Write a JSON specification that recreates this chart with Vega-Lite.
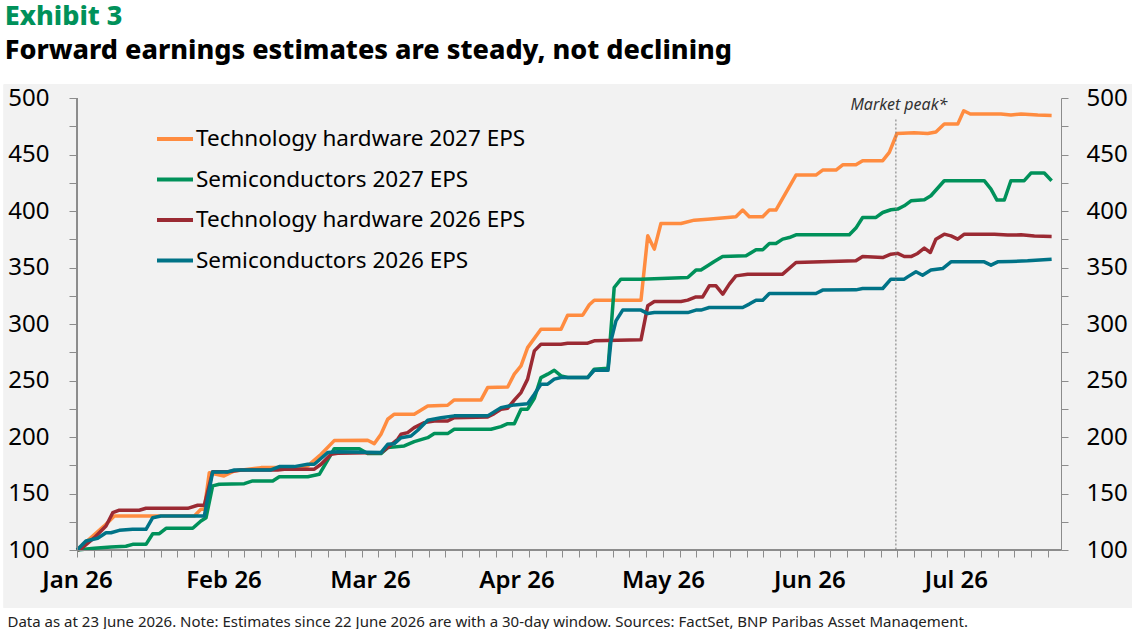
{
  "$schema": "https://vega.github.io/schema/vega-lite/v6.json",
  "width": 984,
  "height": 452,
  "padding": {"left": 3, "top": 3, "right": 0, "bottom": 0},
  "background": "white",
  "title": {
    "text": "Exhibit 3",
    "subtitle": "Forward earnings estimates are steady, not declining",
    "anchor": "start",
    "frame": "bounds",
    "dx": 1,
    "offset": 19,
    "font": "Noto Sans",
    "fontSize": 27,
    "fontWeight": 800,
    "color": "#00915a",
    "subtitleFont": "Noto Sans",
    "subtitleFontSize": 27,
    "subtitleFontWeight": 800,
    "subtitleColor": "#000000",
    "subtitlePadding": 7
  },
  "config": {
    "view": {"stroke": null},
    "font": "Noto Sans",
    "axis": {"grid": false, "domainColor": "#8c8c8c", "tickColor": "#8c8c8c", "labelColor": "#000000", "labelFont": "Noto Sans"}
  },
  "data": {
    "values": [
      {"s": "Technology hardware 2027 EPS", "t": 0, "v": 100},
      {"s": "Technology hardware 2027 EPS", "t": 0.096, "v": 110.9},
      {"s": "Technology hardware 2027 EPS", "t": 0.186, "v": 121.3},
      {"s": "Technology hardware 2027 EPS", "t": 0.255, "v": 130.1},
      {"s": "Technology hardware 2027 EPS", "t": 0.801, "v": 130.1},
      {"s": "Technology hardware 2027 EPS", "t": 0.846, "v": 136.0},
      {"s": "Technology hardware 2027 EPS", "t": 0.869, "v": 136.0},
      {"s": "Technology hardware 2027 EPS", "t": 0.903, "v": 168.4},
      {"s": "Technology hardware 2027 EPS", "t": 1.003, "v": 165.5},
      {"s": "Technology hardware 2027 EPS", "t": 1.074, "v": 170.0},
      {"s": "Technology hardware 2027 EPS", "t": 1.256, "v": 172.9},
      {"s": "Technology hardware 2027 EPS", "t": 1.483, "v": 172.9},
      {"s": "Technology hardware 2027 EPS", "t": 1.575, "v": 174.4},
      {"s": "Technology hardware 2027 EPS", "t": 1.666, "v": 184.7},
      {"s": "Technology hardware 2027 EPS", "t": 1.756, "v": 196.8},
      {"s": "Technology hardware 2027 EPS", "t": 1.984, "v": 197.1},
      {"s": "Technology hardware 2027 EPS", "t": 2.029, "v": 194.1},
      {"s": "Technology hardware 2027 EPS", "t": 2.075, "v": 202.5},
      {"s": "Technology hardware 2027 EPS", "t": 2.121, "v": 215.7},
      {"s": "Technology hardware 2027 EPS", "t": 2.166, "v": 220.2},
      {"s": "Technology hardware 2027 EPS", "t": 2.302, "v": 220.2},
      {"s": "Technology hardware 2027 EPS", "t": 2.394, "v": 227.5},
      {"s": "Technology hardware 2027 EPS", "t": 2.530, "v": 228.1},
      {"s": "Technology hardware 2027 EPS", "t": 2.575, "v": 232.8},
      {"s": "Technology hardware 2027 EPS", "t": 2.758, "v": 232.8},
      {"s": "Technology hardware 2027 EPS", "t": 2.803, "v": 243.7},
      {"s": "Technology hardware 2027 EPS", "t": 2.940, "v": 244.3},
      {"s": "Technology hardware 2027 EPS", "t": 2.985, "v": 255.6},
      {"s": "Technology hardware 2027 EPS", "t": 3.031, "v": 262.9},
      {"s": "Technology hardware 2027 EPS", "t": 3.076, "v": 279.1},
      {"s": "Technology hardware 2027 EPS", "t": 3.167, "v": 295.4},
      {"s": "Technology hardware 2027 EPS", "t": 3.304, "v": 295.4},
      {"s": "Technology hardware 2027 EPS", "t": 3.349, "v": 307.8},
      {"s": "Technology hardware 2027 EPS", "t": 3.452, "v": 307.8},
      {"s": "Technology hardware 2027 EPS", "t": 3.497, "v": 317.0},
      {"s": "Technology hardware 2027 EPS", "t": 3.531, "v": 321.1},
      {"s": "Technology hardware 2027 EPS", "t": 3.850, "v": 321.1},
      {"s": "Technology hardware 2027 EPS", "t": 3.896, "v": 378.0},
      {"s": "Technology hardware 2027 EPS", "t": 3.941, "v": 366.3},
      {"s": "Technology hardware 2027 EPS", "t": 3.986, "v": 388.9},
      {"s": "Technology hardware 2027 EPS", "t": 4.123, "v": 388.9},
      {"s": "Technology hardware 2027 EPS", "t": 4.214, "v": 391.9},
      {"s": "Technology hardware 2027 EPS", "t": 4.305, "v": 392.8},
      {"s": "Technology hardware 2027 EPS", "t": 4.442, "v": 394.3},
      {"s": "Technology hardware 2027 EPS", "t": 4.498, "v": 394.9},
      {"s": "Technology hardware 2027 EPS", "t": 4.544, "v": 400.8},
      {"s": "Technology hardware 2027 EPS", "t": 4.589, "v": 394.9},
      {"s": "Technology hardware 2027 EPS", "t": 4.681, "v": 394.9},
      {"s": "Technology hardware 2027 EPS", "t": 4.726, "v": 400.8},
      {"s": "Technology hardware 2027 EPS", "t": 4.771, "v": 400.8},
      {"s": "Technology hardware 2027 EPS", "t": 4.908, "v": 431.8},
      {"s": "Technology hardware 2027 EPS", "t": 5.044, "v": 431.8},
      {"s": "Technology hardware 2027 EPS", "t": 5.090, "v": 436.2},
      {"s": "Technology hardware 2027 EPS", "t": 5.181, "v": 436.2},
      {"s": "Technology hardware 2027 EPS", "t": 5.227, "v": 440.9},
      {"s": "Technology hardware 2027 EPS", "t": 5.317, "v": 440.9},
      {"s": "Technology hardware 2027 EPS", "t": 5.363, "v": 444.5},
      {"s": "Technology hardware 2027 EPS", "t": 5.500, "v": 444.5},
      {"s": "Technology hardware 2027 EPS", "t": 5.545, "v": 451.8},
      {"s": "Technology hardware 2027 EPS", "t": 5.597, "v": 468.6},
      {"s": "Technology hardware 2027 EPS", "t": 5.715, "v": 469.2},
      {"s": "Technology hardware 2027 EPS", "t": 5.807, "v": 468.6},
      {"s": "Technology hardware 2027 EPS", "t": 5.863, "v": 469.9},
      {"s": "Technology hardware 2027 EPS", "t": 5.920, "v": 476.9},
      {"s": "Technology hardware 2027 EPS", "t": 6.012, "v": 476.9},
      {"s": "Technology hardware 2027 EPS", "t": 6.053, "v": 488.7},
      {"s": "Technology hardware 2027 EPS", "t": 6.098, "v": 485.8},
      {"s": "Technology hardware 2027 EPS", "t": 6.307, "v": 485.8},
      {"s": "Technology hardware 2027 EPS", "t": 6.375, "v": 484.9},
      {"s": "Technology hardware 2027 EPS", "t": 6.444, "v": 485.8},
      {"s": "Technology hardware 2027 EPS", "t": 6.558, "v": 484.9},
      {"s": "Technology hardware 2027 EPS", "t": 6.653, "v": 484.6},

      {"s": "Semiconductors 2027 EPS", "t": 0, "v": 100},
      {"s": "Semiconductors 2027 EPS", "t": 0.118, "v": 101.5},
      {"s": "Semiconductors 2027 EPS", "t": 0.232, "v": 102.7},
      {"s": "Semiconductors 2027 EPS", "t": 0.334, "v": 103.3},
      {"s": "Semiconductors 2027 EPS", "t": 0.380, "v": 105.0},
      {"s": "Semiconductors 2027 EPS", "t": 0.471, "v": 105.0},
      {"s": "Semiconductors 2027 EPS", "t": 0.517, "v": 114.4},
      {"s": "Semiconductors 2027 EPS", "t": 0.562, "v": 114.4},
      {"s": "Semiconductors 2027 EPS", "t": 0.608, "v": 119.2},
      {"s": "Semiconductors 2027 EPS", "t": 0.790, "v": 119.2},
      {"s": "Semiconductors 2027 EPS", "t": 0.846, "v": 125.7},
      {"s": "Semiconductors 2027 EPS", "t": 0.881, "v": 128.6},
      {"s": "Semiconductors 2027 EPS", "t": 0.926, "v": 156.7},
      {"s": "Semiconductors 2027 EPS", "t": 0.971, "v": 158.2},
      {"s": "Semiconductors 2027 EPS", "t": 1.142, "v": 158.7},
      {"s": "Semiconductors 2027 EPS", "t": 1.199, "v": 161.1},
      {"s": "Semiconductors 2027 EPS", "t": 1.336, "v": 161.1},
      {"s": "Semiconductors 2027 EPS", "t": 1.381, "v": 164.9},
      {"s": "Semiconductors 2027 EPS", "t": 1.575, "v": 164.9},
      {"s": "Semiconductors 2027 EPS", "t": 1.654, "v": 167.0},
      {"s": "Semiconductors 2027 EPS", "t": 1.734, "v": 184.7},
      {"s": "Semiconductors 2027 EPS", "t": 1.756, "v": 189.7},
      {"s": "Semiconductors 2027 EPS", "t": 1.927, "v": 189.7},
      {"s": "Semiconductors 2027 EPS", "t": 1.984, "v": 185.3},
      {"s": "Semiconductors 2027 EPS", "t": 2.075, "v": 185.3},
      {"s": "Semiconductors 2027 EPS", "t": 2.121, "v": 190.6},
      {"s": "Semiconductors 2027 EPS", "t": 2.234, "v": 192.1},
      {"s": "Semiconductors 2027 EPS", "t": 2.302, "v": 195.9},
      {"s": "Semiconductors 2027 EPS", "t": 2.394, "v": 199.4},
      {"s": "Semiconductors 2027 EPS", "t": 2.439, "v": 203.0},
      {"s": "Semiconductors 2027 EPS", "t": 2.530, "v": 203.0},
      {"s": "Semiconductors 2027 EPS", "t": 2.575, "v": 206.9},
      {"s": "Semiconductors 2027 EPS", "t": 2.826, "v": 206.9},
      {"s": "Semiconductors 2027 EPS", "t": 2.894, "v": 209.2},
      {"s": "Semiconductors 2027 EPS", "t": 2.940, "v": 211.8},
      {"s": "Semiconductors 2027 EPS", "t": 2.985, "v": 211.8},
      {"s": "Semiconductors 2027 EPS", "t": 3.031, "v": 224.6},
      {"s": "Semiconductors 2027 EPS", "t": 3.076, "v": 224.6},
      {"s": "Semiconductors 2027 EPS", "t": 3.122, "v": 234.3},
      {"s": "Semiconductors 2027 EPS", "t": 3.167, "v": 252.6},
      {"s": "Semiconductors 2027 EPS", "t": 3.213, "v": 255.6},
      {"s": "Semiconductors 2027 EPS", "t": 3.258, "v": 259.1},
      {"s": "Semiconductors 2027 EPS", "t": 3.304, "v": 254.1},
      {"s": "Semiconductors 2027 EPS", "t": 3.349, "v": 252.6},
      {"s": "Semiconductors 2027 EPS", "t": 3.486, "v": 252.6},
      {"s": "Semiconductors 2027 EPS", "t": 3.531, "v": 260.0},
      {"s": "Semiconductors 2027 EPS", "t": 3.625, "v": 260.9},
      {"s": "Semiconductors 2027 EPS", "t": 3.667, "v": 332.3},
      {"s": "Semiconductors 2027 EPS", "t": 3.713, "v": 339.7},
      {"s": "Semiconductors 2027 EPS", "t": 3.850, "v": 339.7},
      {"s": "Semiconductors 2027 EPS", "t": 4.169, "v": 341.1},
      {"s": "Semiconductors 2027 EPS", "t": 4.225, "v": 347.7},
      {"s": "Semiconductors 2027 EPS", "t": 4.259, "v": 347.7},
      {"s": "Semiconductors 2027 EPS", "t": 4.305, "v": 351.5},
      {"s": "Semiconductors 2027 EPS", "t": 4.350, "v": 355.3},
      {"s": "Semiconductors 2027 EPS", "t": 4.407, "v": 359.7},
      {"s": "Semiconductors 2027 EPS", "t": 4.567, "v": 360.3},
      {"s": "Semiconductors 2027 EPS", "t": 4.635, "v": 365.7},
      {"s": "Semiconductors 2027 EPS", "t": 4.681, "v": 365.7},
      {"s": "Semiconductors 2027 EPS", "t": 4.726, "v": 371.2},
      {"s": "Semiconductors 2027 EPS", "t": 4.771, "v": 371.2},
      {"s": "Semiconductors 2027 EPS", "t": 4.817, "v": 375.1},
      {"s": "Semiconductors 2027 EPS", "t": 4.862, "v": 376.5},
      {"s": "Semiconductors 2027 EPS", "t": 4.908, "v": 378.9},
      {"s": "Semiconductors 2027 EPS", "t": 5.272, "v": 378.9},
      {"s": "Semiconductors 2027 EPS", "t": 5.317, "v": 384.9},
      {"s": "Semiconductors 2027 EPS", "t": 5.363, "v": 394.3},
      {"s": "Semiconductors 2027 EPS", "t": 5.454, "v": 394.3},
      {"s": "Semiconductors 2027 EPS", "t": 5.500, "v": 398.7},
      {"s": "Semiconductors 2027 EPS", "t": 5.556, "v": 401.1},
      {"s": "Semiconductors 2027 EPS", "t": 5.602, "v": 401.7},
      {"s": "Semiconductors 2027 EPS", "t": 5.647, "v": 404.6},
      {"s": "Semiconductors 2027 EPS", "t": 5.693, "v": 409.0},
      {"s": "Semiconductors 2027 EPS", "t": 5.784, "v": 409.9},
      {"s": "Semiconductors 2027 EPS", "t": 5.829, "v": 413.5},
      {"s": "Semiconductors 2027 EPS", "t": 5.920, "v": 426.8},
      {"s": "Semiconductors 2027 EPS", "t": 6.193, "v": 426.8},
      {"s": "Semiconductors 2027 EPS", "t": 6.239, "v": 419.4},
      {"s": "Semiconductors 2027 EPS", "t": 6.280, "v": 409.7},
      {"s": "Semiconductors 2027 EPS", "t": 6.330, "v": 409.7},
      {"s": "Semiconductors 2027 EPS", "t": 6.375, "v": 426.8},
      {"s": "Semiconductors 2027 EPS", "t": 6.466, "v": 426.8},
      {"s": "Semiconductors 2027 EPS", "t": 6.512, "v": 433.6},
      {"s": "Semiconductors 2027 EPS", "t": 6.603, "v": 433.6},
      {"s": "Semiconductors 2027 EPS", "t": 6.653, "v": 426.8},

      {"s": "Technology hardware 2026 EPS", "t": 0, "v": 100},
      {"s": "Technology hardware 2026 EPS", "t": 0.027, "v": 100.9},
      {"s": "Technology hardware 2026 EPS", "t": 0.118, "v": 110.9},
      {"s": "Technology hardware 2026 EPS", "t": 0.198, "v": 121.3},
      {"s": "Technology hardware 2026 EPS", "t": 0.244, "v": 133.0},
      {"s": "Technology hardware 2026 EPS", "t": 0.289, "v": 135.2},
      {"s": "Technology hardware 2026 EPS", "t": 0.425, "v": 135.2},
      {"s": "Technology hardware 2026 EPS", "t": 0.471, "v": 136.9},
      {"s": "Technology hardware 2026 EPS", "t": 0.756, "v": 136.9},
      {"s": "Technology hardware 2026 EPS", "t": 0.824, "v": 139.6},
      {"s": "Technology hardware 2026 EPS", "t": 0.869, "v": 139.6},
      {"s": "Technology hardware 2026 EPS", "t": 0.926, "v": 169.3},
      {"s": "Technology hardware 2026 EPS", "t": 1.029, "v": 169.3},
      {"s": "Technology hardware 2026 EPS", "t": 1.119, "v": 170.8},
      {"s": "Technology hardware 2026 EPS", "t": 1.370, "v": 170.8},
      {"s": "Technology hardware 2026 EPS", "t": 1.415, "v": 171.5},
      {"s": "Technology hardware 2026 EPS", "t": 1.620, "v": 171.5},
      {"s": "Technology hardware 2026 EPS", "t": 1.666, "v": 175.9},
      {"s": "Technology hardware 2026 EPS", "t": 1.734, "v": 184.7},
      {"s": "Technology hardware 2026 EPS", "t": 1.780, "v": 185.6},
      {"s": "Technology hardware 2026 EPS", "t": 2.075, "v": 186.2},
      {"s": "Technology hardware 2026 EPS", "t": 2.121, "v": 190.6},
      {"s": "Technology hardware 2026 EPS", "t": 2.189, "v": 198.0},
      {"s": "Technology hardware 2026 EPS", "t": 2.212, "v": 202.5},
      {"s": "Technology hardware 2026 EPS", "t": 2.257, "v": 203.9},
      {"s": "Technology hardware 2026 EPS", "t": 2.302, "v": 208.3},
      {"s": "Technology hardware 2026 EPS", "t": 2.371, "v": 212.7},
      {"s": "Technology hardware 2026 EPS", "t": 2.439, "v": 214.2},
      {"s": "Technology hardware 2026 EPS", "t": 2.530, "v": 214.2},
      {"s": "Technology hardware 2026 EPS", "t": 2.575, "v": 217.1},
      {"s": "Technology hardware 2026 EPS", "t": 2.803, "v": 217.8},
      {"s": "Technology hardware 2026 EPS", "t": 2.848, "v": 220.7},
      {"s": "Technology hardware 2026 EPS", "t": 2.894, "v": 224.6},
      {"s": "Technology hardware 2026 EPS", "t": 2.940, "v": 225.5},
      {"s": "Technology hardware 2026 EPS", "t": 2.985, "v": 232.6},
      {"s": "Technology hardware 2026 EPS", "t": 3.031, "v": 239.3},
      {"s": "Technology hardware 2026 EPS", "t": 3.076, "v": 251.2},
      {"s": "Technology hardware 2026 EPS", "t": 3.122, "v": 276.2},
      {"s": "Technology hardware 2026 EPS", "t": 3.167, "v": 282.1},
      {"s": "Technology hardware 2026 EPS", "t": 3.304, "v": 282.1},
      {"s": "Technology hardware 2026 EPS", "t": 3.349, "v": 283.0},
      {"s": "Technology hardware 2026 EPS", "t": 3.486, "v": 283.0},
      {"s": "Technology hardware 2026 EPS", "t": 3.531, "v": 285.1},
      {"s": "Technology hardware 2026 EPS", "t": 3.850, "v": 286.0},
      {"s": "Technology hardware 2026 EPS", "t": 3.896, "v": 316.1},
      {"s": "Technology hardware 2026 EPS", "t": 3.941, "v": 319.9},
      {"s": "Technology hardware 2026 EPS", "t": 4.123, "v": 319.9},
      {"s": "Technology hardware 2026 EPS", "t": 4.169, "v": 321.1},
      {"s": "Technology hardware 2026 EPS", "t": 4.225, "v": 324.0},
      {"s": "Technology hardware 2026 EPS", "t": 4.271, "v": 324.0},
      {"s": "Technology hardware 2026 EPS", "t": 4.316, "v": 333.8},
      {"s": "Technology hardware 2026 EPS", "t": 4.362, "v": 333.8},
      {"s": "Technology hardware 2026 EPS", "t": 4.408, "v": 326.4},
      {"s": "Technology hardware 2026 EPS", "t": 4.453, "v": 335.3},
      {"s": "Technology hardware 2026 EPS", "t": 4.498, "v": 342.6},
      {"s": "Technology hardware 2026 EPS", "t": 4.578, "v": 344.1},
      {"s": "Technology hardware 2026 EPS", "t": 4.817, "v": 344.1},
      {"s": "Technology hardware 2026 EPS", "t": 4.908, "v": 354.4},
      {"s": "Technology hardware 2026 EPS", "t": 5.317, "v": 355.9},
      {"s": "Technology hardware 2026 EPS", "t": 5.363, "v": 359.7},
      {"s": "Technology hardware 2026 EPS", "t": 5.500, "v": 358.8},
      {"s": "Technology hardware 2026 EPS", "t": 5.556, "v": 361.8},
      {"s": "Technology hardware 2026 EPS", "t": 5.602, "v": 362.5},
      {"s": "Technology hardware 2026 EPS", "t": 5.647, "v": 359.7},
      {"s": "Technology hardware 2026 EPS", "t": 5.693, "v": 359.7},
      {"s": "Technology hardware 2026 EPS", "t": 5.738, "v": 362.4},
      {"s": "Technology hardware 2026 EPS", "t": 5.784, "v": 367.2},
      {"s": "Technology hardware 2026 EPS", "t": 5.825, "v": 363.3},
      {"s": "Technology hardware 2026 EPS", "t": 5.863, "v": 375.1},
      {"s": "Technology hardware 2026 EPS", "t": 5.920, "v": 379.5},
      {"s": "Technology hardware 2026 EPS", "t": 5.966, "v": 378.0},
      {"s": "Technology hardware 2026 EPS", "t": 6.012, "v": 375.1},
      {"s": "Technology hardware 2026 EPS", "t": 6.057, "v": 379.5},
      {"s": "Technology hardware 2026 EPS", "t": 6.262, "v": 379.5},
      {"s": "Technology hardware 2026 EPS", "t": 6.353, "v": 378.7},
      {"s": "Technology hardware 2026 EPS", "t": 6.444, "v": 378.9},
      {"s": "Technology hardware 2026 EPS", "t": 6.535, "v": 377.8},
      {"s": "Technology hardware 2026 EPS", "t": 6.653, "v": 377.4},

      {"s": "Semiconductors 2026 EPS", "t": 0, "v": 100},
      {"s": "Semiconductors 2026 EPS", "t": 0.061, "v": 108.0},
      {"s": "Semiconductors 2026 EPS", "t": 0.141, "v": 110.4},
      {"s": "Semiconductors 2026 EPS", "t": 0.198, "v": 115.3},
      {"s": "Semiconductors 2026 EPS", "t": 0.232, "v": 115.3},
      {"s": "Semiconductors 2026 EPS", "t": 0.289, "v": 117.4},
      {"s": "Semiconductors 2026 EPS", "t": 0.380, "v": 118.3},
      {"s": "Semiconductors 2026 EPS", "t": 0.471, "v": 118.3},
      {"s": "Semiconductors 2026 EPS", "t": 0.517, "v": 128.6},
      {"s": "Semiconductors 2026 EPS", "t": 0.573, "v": 130.1},
      {"s": "Semiconductors 2026 EPS", "t": 0.869, "v": 130.1},
      {"s": "Semiconductors 2026 EPS", "t": 0.926, "v": 169.1},
      {"s": "Semiconductors 2026 EPS", "t": 1.029, "v": 169.1},
      {"s": "Semiconductors 2026 EPS", "t": 1.074, "v": 170.8},
      {"s": "Semiconductors 2026 EPS", "t": 1.324, "v": 170.8},
      {"s": "Semiconductors 2026 EPS", "t": 1.381, "v": 173.8},
      {"s": "Semiconductors 2026 EPS", "t": 1.483, "v": 173.8},
      {"s": "Semiconductors 2026 EPS", "t": 1.575, "v": 175.9},
      {"s": "Semiconductors 2026 EPS", "t": 1.620, "v": 175.9},
      {"s": "Semiconductors 2026 EPS", "t": 1.711, "v": 186.2},
      {"s": "Semiconductors 2026 EPS", "t": 1.780, "v": 187.0},
      {"s": "Semiconductors 2026 EPS", "t": 2.075, "v": 186.2},
      {"s": "Semiconductors 2026 EPS", "t": 2.121, "v": 193.6},
      {"s": "Semiconductors 2026 EPS", "t": 2.166, "v": 194.1},
      {"s": "Semiconductors 2026 EPS", "t": 2.212, "v": 199.4},
      {"s": "Semiconductors 2026 EPS", "t": 2.280, "v": 200.9},
      {"s": "Semiconductors 2026 EPS", "t": 2.326, "v": 206.0},
      {"s": "Semiconductors 2026 EPS", "t": 2.394, "v": 214.8},
      {"s": "Semiconductors 2026 EPS", "t": 2.485, "v": 217.1},
      {"s": "Semiconductors 2026 EPS", "t": 2.575, "v": 218.7},
      {"s": "Semiconductors 2026 EPS", "t": 2.803, "v": 218.7},
      {"s": "Semiconductors 2026 EPS", "t": 2.894, "v": 226.0},
      {"s": "Semiconductors 2026 EPS", "t": 2.985, "v": 228.4},
      {"s": "Semiconductors 2026 EPS", "t": 3.076, "v": 229.5},
      {"s": "Semiconductors 2026 EPS", "t": 3.122, "v": 237.9},
      {"s": "Semiconductors 2026 EPS", "t": 3.167, "v": 246.7},
      {"s": "Semiconductors 2026 EPS", "t": 3.213, "v": 246.7},
      {"s": "Semiconductors 2026 EPS", "t": 3.258, "v": 251.2},
      {"s": "Semiconductors 2026 EPS", "t": 3.304, "v": 252.6},
      {"s": "Semiconductors 2026 EPS", "t": 3.486, "v": 252.6},
      {"s": "Semiconductors 2026 EPS", "t": 3.531, "v": 259.1},
      {"s": "Semiconductors 2026 EPS", "t": 3.625, "v": 259.1},
      {"s": "Semiconductors 2026 EPS", "t": 3.645, "v": 285.1},
      {"s": "Semiconductors 2026 EPS", "t": 3.679, "v": 302.8},
      {"s": "Semiconductors 2026 EPS", "t": 3.725, "v": 312.3},
      {"s": "Semiconductors 2026 EPS", "t": 3.850, "v": 312.3},
      {"s": "Semiconductors 2026 EPS", "t": 3.896, "v": 309.2},
      {"s": "Semiconductors 2026 EPS", "t": 3.941, "v": 310.1},
      {"s": "Semiconductors 2026 EPS", "t": 4.169, "v": 310.1},
      {"s": "Semiconductors 2026 EPS", "t": 4.225, "v": 312.3},
      {"s": "Semiconductors 2026 EPS", "t": 4.259, "v": 312.3},
      {"s": "Semiconductors 2026 EPS", "t": 4.316, "v": 314.6},
      {"s": "Semiconductors 2026 EPS", "t": 4.544, "v": 314.6},
      {"s": "Semiconductors 2026 EPS", "t": 4.589, "v": 317.6},
      {"s": "Semiconductors 2026 EPS", "t": 4.635, "v": 321.1},
      {"s": "Semiconductors 2026 EPS", "t": 4.681, "v": 321.1},
      {"s": "Semiconductors 2026 EPS", "t": 4.726, "v": 327.0},
      {"s": "Semiconductors 2026 EPS", "t": 5.044, "v": 327.0},
      {"s": "Semiconductors 2026 EPS", "t": 5.090, "v": 330.0},
      {"s": "Semiconductors 2026 EPS", "t": 5.317, "v": 330.2},
      {"s": "Semiconductors 2026 EPS", "t": 5.363, "v": 331.4},
      {"s": "Semiconductors 2026 EPS", "t": 5.500, "v": 331.4},
      {"s": "Semiconductors 2026 EPS", "t": 5.556, "v": 339.7},
      {"s": "Semiconductors 2026 EPS", "t": 5.647, "v": 339.7},
      {"s": "Semiconductors 2026 EPS", "t": 5.670, "v": 341.7},
      {"s": "Semiconductors 2026 EPS", "t": 5.727, "v": 346.2},
      {"s": "Semiconductors 2026 EPS", "t": 5.772, "v": 343.2},
      {"s": "Semiconductors 2026 EPS", "t": 5.829, "v": 347.7},
      {"s": "Semiconductors 2026 EPS", "t": 5.909, "v": 349.1},
      {"s": "Semiconductors 2026 EPS", "t": 5.966, "v": 355.0},
      {"s": "Semiconductors 2026 EPS", "t": 6.193, "v": 355.0},
      {"s": "Semiconductors 2026 EPS", "t": 6.239, "v": 352.1},
      {"s": "Semiconductors 2026 EPS", "t": 6.285, "v": 355.0},
      {"s": "Semiconductors 2026 EPS", "t": 6.375, "v": 355.3},
      {"s": "Semiconductors 2026 EPS", "t": 6.489, "v": 355.9},
      {"s": "Semiconductors 2026 EPS", "t": 6.653, "v": 357.4}
    ]
  },
  "layer": [
    {
      "mark": {"type": "rect", "fill": "#f2f2f2"},
      "encoding": {
        "x": {"datum": -0.5, "type": "quantitative", "scale": {"domain": [0, 6.717], "nice": false, "zero": false}, "axis": null},
        "x2": {"datum": 7.25},
        "y": {"datum": 512, "type": "quantitative", "scale": {"domain": [100, 500], "nice": false, "zero": false}, "axis": null},
        "y2": {"datum": 49}
      }
    },
    {
      "mark": {"type": "rule", "stroke": "#8c8c8c", "strokeWidth": 1},
      "encoding": {
        "x": {"datum": 0, "type": "quantitative", "scale": {"domain": [0, 6.717], "nice": false, "zero": false}, "axis": null},
        "y": {"datum": 100, "type": "quantitative", "scale": {"domain": [100, 500], "nice": false, "zero": false}, "axis": null},
        "y2": {"datum": 500}
      }
    },
    {
      "mark": {"type": "rule", "stroke": "#8c8c8c", "strokeWidth": 1},
      "encoding": {
        "x": {"datum": 0, "type": "quantitative", "scale": {"domain": [0, 6.717], "nice": false, "zero": false}, "axis": null},
        "x2": {"datum": 6.717},
        "y": {"datum": 100, "type": "quantitative", "scale": {"domain": [100, 500], "nice": false, "zero": false}, "axis": null}
      }
    },
    {
      "mark": {"type": "line", "strokeWidth": 3.5, "strokeJoin": "round"},
      "encoding": {
        "x": {
          "field": "t", "type": "quantitative",
          "scale": {"domain": [0, 6.717], "nice": false, "zero": false},
          "axis": null
        },
        "y": {
          "field": "v", "type": "quantitative",
          "scale": {"domain": [100, 500], "nice": false, "zero": false},
          "axis": {
            "zindex": 1,
            "orient": "right",
            "values": [100, 125, 150, 175, 200, 225, 250, 275, 300, 325, 350, 375, 400, 425, 450, 475, 500],
            "labelExpr": "datum.value % 50 === 0 ? datum.label : ''",
            "tickSize": 7,
            "labelFontSize": 24,
            "labelPadding": 18,
            "title": null
          }
        },
        "color": {
          "field": "s", "type": "nominal",
          "scale": {
            "domain": ["Technology hardware 2027 EPS", "Semiconductors 2027 EPS", "Technology hardware 2026 EPS", "Semiconductors 2026 EPS"],
            "range": ["#ff8c40", "#00915a", "#9b2a33", "#007387"]
          },
          "legend": {
            "orient": "none",
            "legendX": 78,
            "legendY": 21,
            "title": null,
            "zindex": 2,
            "padding": 0,
            "symbolType": "stroke",
            "symbolSize": 1296,
            "symbolStrokeWidth": 4,
            "labelFont": "Noto Sans",
            "labelFontSize": 22.5,
            "labelColor": "#000000",
            "labelOffset": 1,
            "labelLimit": 500,
            "rowPadding": 8.5
          }
        }
      }
    },
    {
      "mark": {"type": "line", "strokeOpacity": 0},
      "encoding": {
        "x": {
          "field": "t", "type": "quantitative",
          "scale": {"domain": [0, 6.717], "nice": false, "zero": false},
          "axis": {
            "zindex": 1,
            "orient": "bottom",
            "domain": true,
            "ticks": true,
            "tickColor": "#8c8c8c",
            "tickWidth": 1,
            "values": [0, 0.114, 0.229, 0.343, 0.457, 0.571, 0.686, 0.8, 0.914, 1, 1.028, 1.143, 1.257, 1.371, 1.486, 1.6, 1.714, 1.828, 1.943, 2, 2.057, 2.171, 2.285, 2.4, 2.514, 2.628, 2.742, 2.857, 2.971, 3, 3.085, 3.2, 3.314, 3.428, 3.542, 3.657, 3.771, 3.885, 3.999, 4, 4.114, 4.228, 4.342, 4.457, 4.571, 4.685, 4.8, 4.914, 5, 5.028, 5.142, 5.257, 5.371, 5.485, 5.599, 5.714, 5.828, 5.942, 6, 6.056, 6.171, 6.285, 6.399, 6.514, 6.628],
            "labelExpr": "datum.value % 1 === 0 ? ['Jan 26', 'Feb 26', 'Mar 26', 'Apr 26', 'May 26', 'Jun 26', 'Jul 26'][datum.value] : ''",
            "labelFlush": false,
            "labelOverlap": false,
            "tickSize": 7,
            "tickOpacity": {"condition": {"test": "datum.value % 1 === 0 && datum.value > 0", "value": 0}, "value": 1},
            "labelFontSize": 24,
            "labelFontWeight": 600,
            "labelPadding": 11,
            "title": "Data as at 23 June 2026. Note: Estimates since 22 June 2026 are with a 30-day window. Sources: FactSet, BNP Paribas Asset Management.",
            "titleFont": "Noto Sans",
            "titleFontSize": 15,
            "titleFontWeight": "normal",
            "titleColor": "#222222",
            "titleAlign": "left",
            "titleBaseline": "middle",
            "titleX": -70,
            "titleY": 71
          }
        },
        "y": {
          "field": "v", "type": "quantitative",
          "scale": {"domain": [100, 500], "nice": false, "zero": false},
          "axis": {
            "zindex": 1,
            "orient": "left",
            "domain": true,
            "ticks": true,
            "tickColor": "#8c8c8c",
            "tickWidth": 1,
            "values": [100, 125, 150, 175, 200, 225, 250, 275, 300, 325, 350, 375, 400, 425, 450, 475, 500],
            "labelExpr": "datum.value % 50 === 0 ? datum.label : ''",
            "tickSize": 8,
            "labelFontSize": 24,
            "labelPadding": 20,
            "title": null
          }
        },
        "detail": {"field": "s", "type": "nominal"}
      }
    },
    {
      "data": {"values": [{"t": 5.59, "event": "Market peak*"}]},
      "layer": [
        {
          "mark": {"type": "rule", "stroke": "#777777", "strokeWidth": 1, "strokeDash": [2, 2]},
          "encoding": {
            "x": {"field": "t", "type": "quantitative", "scale": {"domain": [0, 6.717], "nice": false, "zero": false}, "axis": null},
            "y": {"datum": 481, "type": "quantitative", "scale": {"domain": [100, 500], "nice": false, "zero": false}, "axis": null},
            "y2": {"datum": 100}
          }
        },
        {
          "mark": {"type": "text", "font": "Noto Sans", "fontSize": 16, "fontStyle": "italic", "color": "#333333", "align": "center", "baseline": "middle", "dx": 3},
          "encoding": {
            "x": {"field": "t", "type": "quantitative", "scale": {"domain": [0, 6.717], "nice": false, "zero": false}, "axis": null},
            "y": {"datum": 494, "type": "quantitative", "scale": {"domain": [100, 500], "nice": false, "zero": false}, "axis": null},
            "text": {"field": "event"}
          }
        }
      ]
    }
  ],
  "resolve": {"axis": {"x": "independent", "y": "independent"}}
}
